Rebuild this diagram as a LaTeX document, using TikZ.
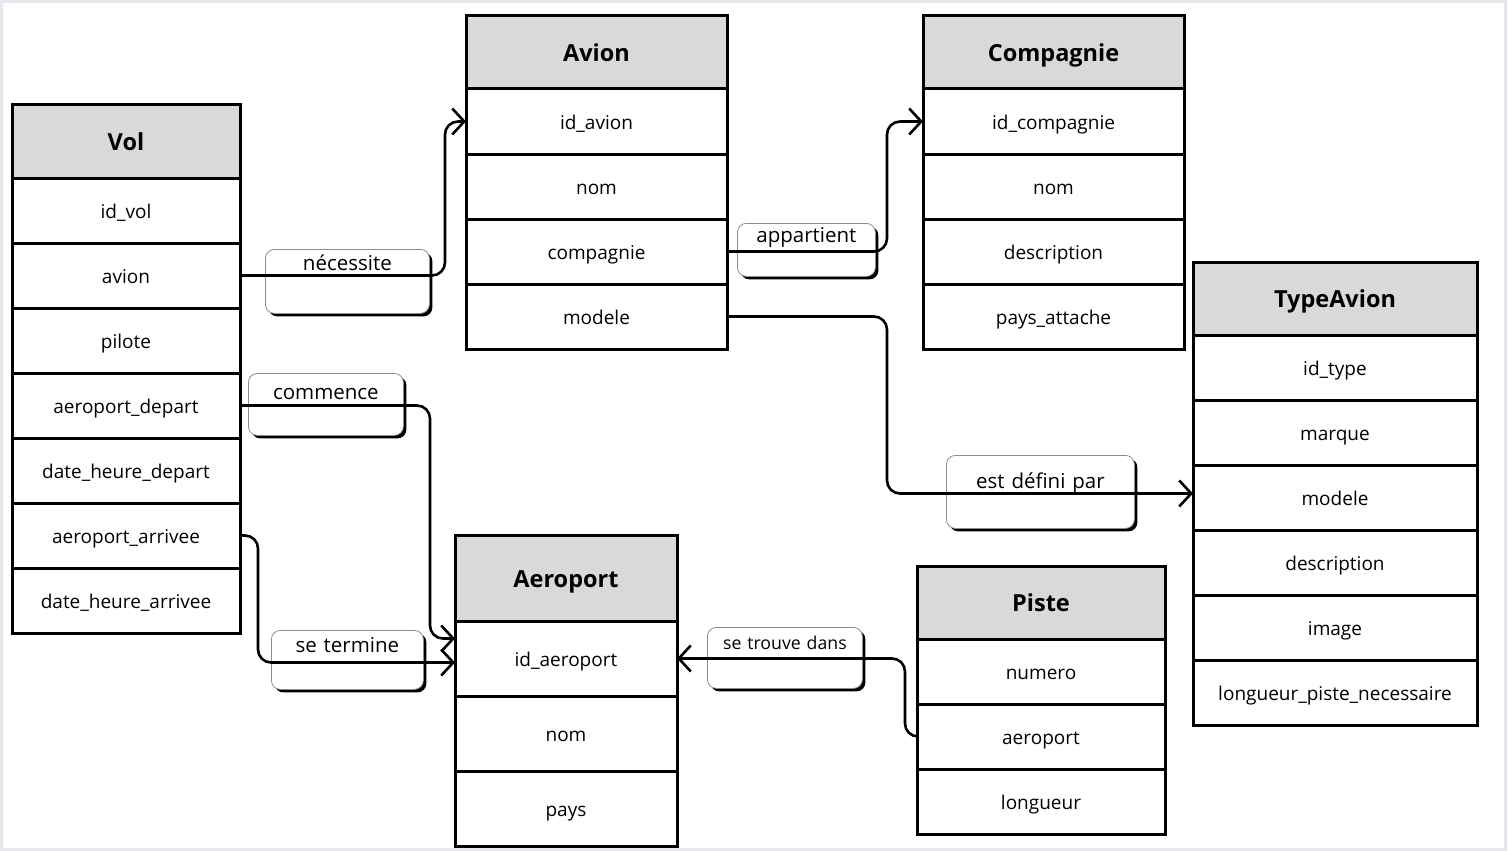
\documentclass[tikz,border=0pt]{standalone}
\usepackage{fontspec}
\setmainfont{Open Sans}
\usetikzlibrary{arrows.meta,shadows}
\definecolor{headgrey}{HTML}{D9D9D9}
\definecolor{framegrey}{HTML}{E6E8EE}
\definecolor{boxedge}{HTML}{8C8C8C}

\begin{document}
\begin{tikzpicture}[
  x=1pt,
  y=-1pt,
  entity/.style={draw=black, line width=3pt, fill=headgrey, inner sep=0pt,
                 outer sep=0pt, text height=22pt, text depth=4pt,
                 font=\fontsize{23.5}{28}\selectfont\bfseries},
  field/.style={draw=black, line width=3pt, fill=white, inner sep=0pt,
                outer sep=0pt, text height=18pt, text depth=3pt,
                font=\fontsize{19}{23}\selectfont},
  relbox/.style={draw=boxedge, line width=0.8pt, fill=white, rounded corners=9pt,
                 inner sep=0pt, anchor=north west, align=center,
                 font=\fontsize{20.5}{24}\selectfont,
                 drop shadow={shadow xshift=3pt, shadow yshift=-3pt,
                              fill=black, opacity=1}},
  link/.style={line width=2.6pt, rounded corners=13pt,
               -{Straight Barb[length=12pt, width=26pt]}}
]
  % ---- page frame ----
  \useasboundingbox (0,0) rectangle (1508,851);
  \draw[framegrey, line width=3pt] (1.5,1.5) rectangle (1505,849.5);

  % ---- Vol ----
  \node[entity, minimum width=228pt, minimum height=74pt] (vol) at (126,141) {Vol};
  \foreach \f [count=\i] in {id\_vol, avion, pilote, aeroport\_depart,
      date\_heure\_depart, aeroport\_arrivee, date\_heure\_arrivee}
    \node[field, minimum width=228pt, minimum height=65pt] (vol-\i)
      at (126,{178+65*\i-32.5}) {\f};

  % ---- Avion ----
  \node[entity, minimum width=261pt, minimum height=73pt] (avion) at (596.5,52.5) {Avion};
  \foreach \f [count=\i] in {id\_avion, nom, compagnie, modele}
    \node[field, minimum width=261pt, minimum height=65pt] (avion-\i)
      at (596.5,{89+65*\i-32.5}) {\f};

  % ---- Compagnie ----
  \node[entity, minimum width=261pt, minimum height=73pt] (comp) at (1053.5,52.5) {Compagnie};
  \foreach \f [count=\i] in {id\_compagnie, nom, description, pays\_attache}
    \node[field, minimum width=261pt, minimum height=65pt] (comp-\i)
      at (1053.5,{89+65*\i-32.5}) {\f};

  % ---- TypeAvion ----
  \node[entity, minimum width=284pt, minimum height=73pt] (type) at (1335,298.5) {TypeAvion};
  \foreach \f [count=\i] in {id\_type, marque, modele, description, image,
      longueur\_piste\_necessaire}
    \node[field, minimum width=284pt, minimum height=65pt] (type-\i)
      at (1335,{335+65*\i-32.5}) {\f};

  % ---- Aeroport ----
  \node[entity, minimum width=222pt, minimum height=86pt] (aero) at (566,578) {Aeroport};
  \foreach \f [count=\i] in {id\_aeroport, nom, pays}
    \node[field, minimum width=222pt, minimum height=75pt] (aero-\i)
      at (566,{621+75*\i-37.5}) {\f};

  % ---- Piste ----
  \node[entity, minimum width=248pt, minimum height=73pt] (piste) at (1041,602.5) {Piste};
  \foreach \f [count=\i] in {numero, aeroport, longueur}
    \node[field, minimum width=248pt, minimum height=65pt] (piste-\i)
      at (1041,{639+65*\i-32.5}) {\f};

  % ---- relation labels ----
  \node[relbox, text width=164pt, text height=21pt, text depth=43pt] (nec) at (265,249) {nécessite};
  \node[relbox, text width=138pt, text height=19pt, text depth=34pt] (app) at (737,223) {appartient};
  \node[relbox, text width=155pt, text height=26pt, text depth=36pt] (com) at (248,373) {commence};
  \node[relbox, text width=152pt, text height=22pt, text depth=37pt] (ter) at (271,630) {se termine};
  \node[relbox, text width=155pt, text height=22pt, text depth=39pt,
        font=\fontsize{17.7}{21}\selectfont] (trv) at (707,627) {se trouve dans};
  \node[relbox, text width=188pt, text height=33pt, text depth=40pt] (def) at (946,455) {est défini par};

  % ---- connectors ----
  \draw[link] (vol-2.east) -- ++(205,0) |- (avion-1.west);
  \draw[link] (avion-3.east) -- ++(160,0) |- (comp-1.west);
  \draw[link] (avion-4.east) -- ++(160,0) |- ([yshift=4pt]type-3.west);
  \draw[link] (vol-4.east) -- ++(190,0) |- ([yshift=20pt]aero-1.west);
  \draw[link] (vol-6.east) -- ++(18,0) |- ([yshift=-4pt]aero-1.west);
  \draw[link] (piste-2.west) -- ++(-12,0) |- (aero-1.east);
\end{tikzpicture}
\end{document}
